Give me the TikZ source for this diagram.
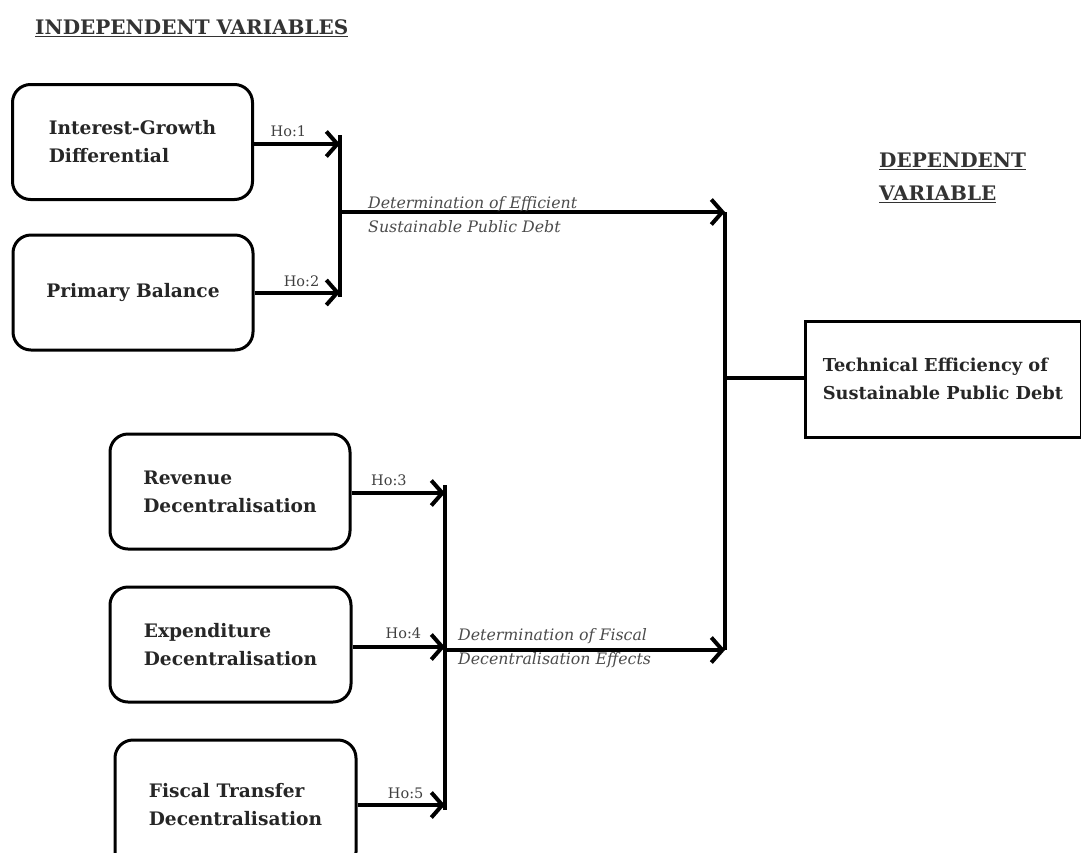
\documentclass[tikz,border=0pt]{standalone}
\usepackage{fontspec}
\setmainfont{DejaVu Serif}
\usetikzlibrary{arrows.meta}
\begin{document}
\begin{tikzpicture}[x=1pt,y=-1pt,
  vbox/.style={draw=black,line width=3pt,rounded corners=18pt,minimum width=240pt,minimum height=115pt,align=left,font=\bfseries\fontsize{18.6}{28}\selectfont,text=black!85},
  depbox/.style={draw=black,line width=3pt,minimum width=276pt,minimum height=116pt,align=left,font=\bfseries\fontsize{17.8}{28}\selectfont,text=black!85},
  arr/.style={line width=4pt,-{Straight Barb[length=11pt,width=25pt,line width=4pt]}},
  conn/.style={line width=4pt},
  hlab/.style={font=\fontsize{14.5}{16}\selectfont,text=black!75,inner sep=1pt},
  dlab/.style={font=\itshape\fontsize{15.8}{24}\selectfont,text=black!70,align=left,anchor=west,inner sep=0pt},
  ttl/.style={font=\bfseries\fontsize{20}{33}\selectfont,text=black!80,align=left,anchor=west,inner sep=0pt}]
\useasboundingbox (0,0) rectangle (1081,852);
\clip (0,0) rectangle (1081,852);
% titles
\node[ttl] (tind) at (35,28) {\underline{INDEPENDENT VARIABLES}};
\node[ttl] (tdep) at (879,178) {\underline{DEPENDENT}\\\underline{VARIABLE}};
% boxes
\node[vbox] (b1) at (132.5,142) {Interest-Growth\\Differential};
\node[vbox] (b2) at (133,292.5) {Primary Balance};
\node[vbox] (b3) at (230,491.5) {Revenue\\Decentralisation};
\node[vbox,minimum width=241pt] (b4) at (230.5,644.5) {Expenditure\\Decentralisation};
\node[vbox,minimum width=241pt,minimum height=130pt] (b5) at (235.5,805) {Fiscal Transfer\\Decentralisation};
\node[depbox] (dv) at (943,379) {Technical Efficiency of\\Sustainable Public Debt};
% bus coordinates
\coordinate (x1) at (340,0);
\coordinate (x2) at (445,0);
\coordinate (j1a) at (340,135);
\coordinate (j1b) at (340,297);
\coordinate (j1m) at (340,212);
\coordinate (j2a) at (445,485);
\coordinate (j2b) at (445,810);
\coordinate (j2m) at (445,650);
\coordinate (j3a) at (725,212);
\coordinate (j3b) at (725,650);
\coordinate (j3m) at (725,378);
% vertical bars
\draw[conn] (j1a) -- (j1b);
\draw[conn] (j2a) -- (j2b);
\draw[conn] (j3a) -- (j3b);
% hypothesis arrows
\draw[arr] ([yshift=-2pt]b1.east) -- ([yshift=-2pt]b1.east -| x1) node[hlab,pos=0.4,above=4pt] {Ho:1};
\draw[arr] (b2.east) -- (b2.east -| x1) node[hlab,pos=0.55,above=3pt] {Ho:2};
\draw[arr] ([yshift=-1.5pt]b3.east) -- ([yshift=-1.5pt]b3.east -| x2) node[hlab,pos=0.4,above=4pt] {Ho:3};
\draw[arr] ([yshift=-2.5pt]b4.east) -- ([yshift=-2.5pt]b4.east -| x2) node[hlab,pos=0.55,above=5pt] {Ho:4};
\draw[arr] (b5.east) -- (b5.east -| x2) node[hlab,pos=0.55,above=3pt] {Ho:5};
% main arrows
\draw[arr] (j1m) -- (j3a);
\draw[arr] (j2m) -- (j3b);
\draw[conn] (j3m) -- (j3m -| dv.west);
% determination labels
\node[dlab] (d1) at (368,215) {Determination of Efficient\\Sustainable Public Debt};
\node[dlab] (d2) at (458,648) {Determination of Fiscal\\Decentralisation Effects};
\end{tikzpicture}
\end{document}
